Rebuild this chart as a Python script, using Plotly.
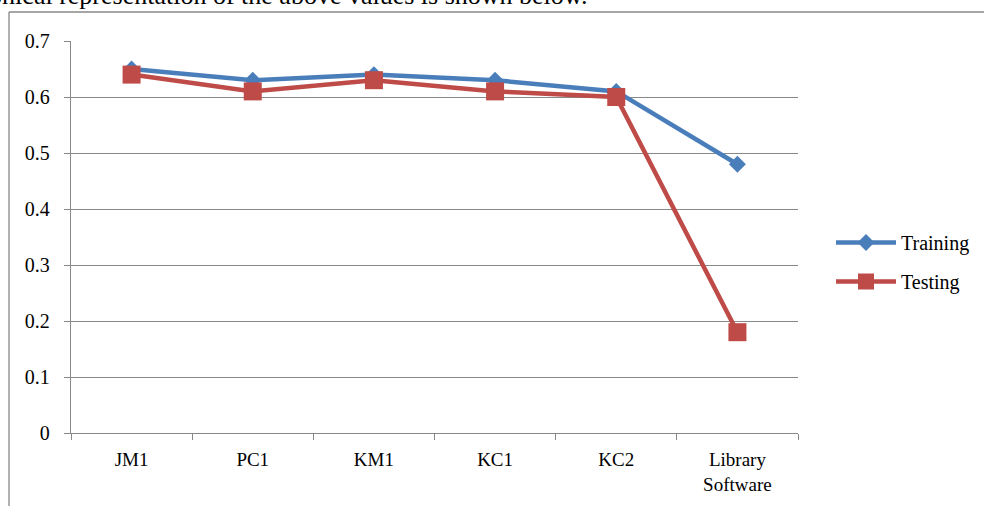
import plotly.graph_objects as go

categories = ["JM1", "PC1", "KM1", "KC1", "KC2", "Library<br>Software"]
training = [0.65, 0.63, 0.64, 0.63, 0.61, 0.48]
testing = [0.64, 0.61, 0.63, 0.61, 0.60, 0.18]
y_ticks = [0, 0.1, 0.2, 0.3, 0.4, 0.5, 0.6, 0.7]

W, H = 984, 506
L, R, T, B = 71, 186, 41, 73
pw, ph = W - L - R, H - T - B


def px_x(p):
    return (p - L) / pw


def px_y(p):
    return (H - B - p) / ph


serif = "Liberation Serif"
grid = "#888888"

fig = go.Figure()
fig.add_trace(go.Scatter(
    x=categories, y=training, name="Training", mode="lines+markers",
    line=dict(color="#4A7EBB", width=4.5),
    marker=dict(symbol="diamond", size=13, color="#4A7EBB"),
    legendgroup="a",
))
fig.add_trace(go.Scatter(
    x=categories, y=testing, name="Testing", mode="lines+markers",
    line=dict(color="#BE4B48", width=4.5),
    marker=dict(symbol="square", size=18, color="#BE4B48"),
    legendgroup="b",
))

fig.update_layout(
    width=W, height=H,
    margin=dict(l=L, r=R, t=T, b=B, autoexpand=False),
    paper_bgcolor="white", plot_bgcolor="white",
    font=dict(family=serif, size=20, color="black"),
    showlegend=True,
    legend=dict(x=px_x(831), y=px_y(262), xanchor="left", yanchor="middle",
                font=dict(family=serif, size=20), tracegroupgap=10,
                itemwidth=60,
                bgcolor="rgba(0,0,0,0)"),
    xaxis=dict(
        type="category", range=[-0.5, 5.5], showgrid=False,
        showline=True, linecolor=grid, linewidth=1.3,
        ticks="outside", tickson="boundaries", ticklen=6, tickcolor=grid,
        tickfont=dict(family=serif, size=19), ticklabelstandoff=9,
    ),
    yaxis=dict(
        range=[0, 0.7], tickvals=y_ticks, ticktext=[f"{v:g}" for v in y_ticks],
        showgrid=True, gridcolor=grid, gridwidth=1.3,
        showline=True, linecolor=grid, linewidth=1.3, zeroline=False,
        ticks="outside", ticklen=6, tickcolor=grid,
        tickfont=dict(family=serif, size=20), ticklabelstandoff=10,
    ),
)

# chart frame (left and top edges)
fig.add_shape(type="line", xref="paper", yref="paper",
              x0=px_x(9), x1=px_x(9), y0=px_y(12), y1=px_y(520),
              line=dict(color=grid, width=1.3))
fig.add_shape(type="line", xref="paper", yref="paper",
              x0=px_x(9), x1=px_x(1000), y0=px_y(12), y1=px_y(12),
              line=dict(color=grid, width=1.3))

fig.add_annotation(
    text="The graphical representation of the above values is shown below.",
    xref="paper", yref="paper", x=px_x(589), y=px_y(-4),
    xanchor="right", yanchor="middle", showarrow=False,
    font=dict(family=serif, size=26, color="black"),
)

fig.write_html("out.html")
